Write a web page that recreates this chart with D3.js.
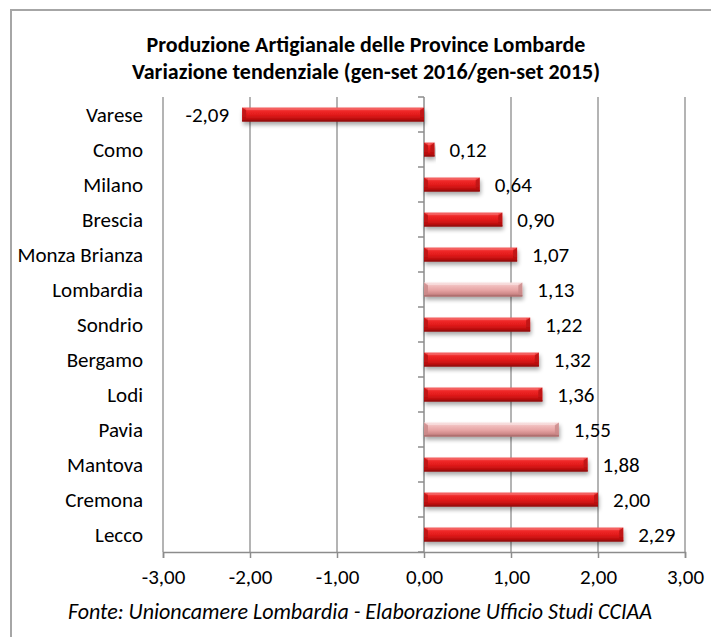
<!DOCTYPE html>
<html>
<head>
<meta charset="utf-8">
<script src="https://cdn.jsdelivr.net/npm/d3@7/dist/d3.min.js"></script>
<style>
  html, body { margin: 0; padding: 0; background: #fff; }
  svg { display: block; }
  text { font-family: "Carlito", "Lato", "Open Sans", sans-serif; fill: #000; }
</style>
</head>
<body>
<svg id="chart" width="711" height="637"></svg>
<script>
const categories = ["Varese","Como","Milano","Brescia","Monza Brianza","Lombardia","Sondrio","Bergamo","Lodi","Pavia","Mantova","Cremona","Lecco"];
const values = [-2.09, 0.12, 0.64, 0.90, 1.07, 1.13, 1.22, 1.32, 1.36, 1.55, 1.88, 2.00, 2.29];
const highlighted = ["Lombardia","Pavia"];
const xTicks = [-3, -2, -1, 0, 1, 2, 3];
const titleLines = ["Produzione Artigianale delle Province Lombarde", "Variazione tendenziale (gen-set 2016/gen-set 2015)"];
const footer = "Fonte: Unioncamere Lombardia - Elaborazione Ufficio Studi CCIAA";

const svg = d3.select("#chart");
const W = 711, H = 637;
const plot = {left: 163, right: 685, top: 97, bottom: 552};
const FS = 21;

const fmt = v => d3.format(".2f")(v).replace(".", ",").replace("\u2212", "-");

// outer border
svg.append("path")
  .attr("d", `M11,${H} L11,10 L${W},10`)
  .attr("fill", "none").attr("stroke", "#a6a6a6").attr("stroke-width", 2);

// defs
const defs = svg.append("defs");
function grad(id, stops) {
  const g = defs.append("linearGradient").attr("id", id).attr("x1", 0).attr("y1", 0).attr("x2", 0).attr("y2", 1);
  stops.forEach(s => g.append("stop").attr("offset", s[0]).attr("stop-color", s[1]));
}
grad("gRed", [[0, "#f35a5a"], [0.25, "#f02a2a"], [0.55, "#e01818"], [0.8, "#c01010"], [1, "#8e0c0c"]]);
grad("gPink", [[0, "#f8dcdc"], [0.25, "#f0bcbc"], [0.55, "#e6a4a4"], [0.8, "#d08a8a"], [1, "#a86868"]]);
const f = defs.append("filter").attr("id", "shadow").attr("x", "-10%").attr("y", "-50%").attr("width", "120%").attr("height", "220%");
f.append("feGaussianBlur").attr("in", "SourceAlpha").attr("stdDeviation", 2).attr("result", "b");
f.append("feOffset").attr("in", "b").attr("dx", 1).attr("dy", 3).attr("result", "o");
f.append("feComponentTransfer").attr("in", "o").attr("result", "o2")
  .append("feFuncA").attr("type", "linear").attr("slope", 0.35);
const m = f.append("feMerge");
m.append("feMergeNode").attr("in", "o2");
m.append("feMergeNode").attr("in", "SourceGraphic");

const x = d3.scaleLinear().domain([-3, 3]).range([plot.left, plot.right]);
const y = d3.scaleBand().domain(categories).range([plot.top, plot.bottom]);

// gridlines
svg.append("g").selectAll("line").data(xTicks.filter(t => t !== 0)).join("line")
  .attr("x1", d => x(d)).attr("x2", d => x(d))
  .attr("y1", plot.top).attr("y2", plot.bottom)
  .attr("stroke", "#8c8c8c").attr("stroke-width", 1.3);

// x axis
const xAxis = svg.append("g").attr("transform", `translate(0,${plot.bottom})`)
  .call(d3.axisBottom(x).tickValues(xTicks).tickFormat(fmt).tickSize(6).tickPadding(11));
xAxis.select(".domain").attr("stroke", "#8c8c8c").attr("stroke-width", 1.5);
xAxis.selectAll(".tick line").attr("stroke", "#8c8c8c").attr("stroke-width", 1.5);
xAxis.selectAll("text").attr("font-size", FS).style("font-family", "Carlito, Lato, 'Open Sans', sans-serif").attr("fill", "#000");

// category axis at zero
const yAxisG = svg.append("g").attr("transform", `translate(${x(0)},0)`);
yAxisG.append("line").attr("x1", 0).attr("x2", 0).attr("y1", plot.top).attr("y2", plot.bottom)
  .attr("stroke", "#8c8c8c").attr("stroke-width", 1.5);
const bounds = d3.range(categories.length + 1).map(i => plot.top + i * y.step());
yAxisG.selectAll("line.t").data(bounds).join("line").attr("class", "t")
  .attr("x1", -6).attr("x2", 0).attr("y1", d => d).attr("y2", d => d)
  .attr("stroke", "#8c8c8c").attr("stroke-width", 1.5);

// category labels
svg.append("g").selectAll("text").data(categories).join("text")
  .attr("x", plot.left - 20).attr("y", d => y(d) + y.bandwidth() / 2)
  .attr("dy", "0.35em").attr("text-anchor", "end").attr("font-size", FS).text(d => d);

// bars
const bh = 14;
const data = categories.map((c, i) => ({c, v: values[i], hl: highlighted.includes(c)}));
const bars = svg.append("g").selectAll("g").data(data).join("g").attr("filter", "url(#shadow)");
bars.append("rect")
  .attr("x", d => Math.min(x(0), x(d.v)))
  .attr("y", d => y(d.c) + y.bandwidth() / 2 - bh / 2)
  .attr("width", d => Math.abs(x(d.v) - x(0)))
  .attr("height", bh)
  .attr("fill", d => d.hl ? "url(#gPink)" : "url(#gRed)");
// bevel ends
bars.each(function(d) {
  const g = d3.select(this);
  const x0 = Math.min(x(0), x(d.v)), x1 = Math.max(x(0), x(d.v));
  const yt = y(d.c) + y.bandwidth() / 2 - bh / 2, yb = yt + bh;
  const bw = Math.min(4, (x1 - x0) / 2);
  const light = d.hl ? "#f9e4e4" : "#f67070";
  const dark = d.hl ? "#b07070" : "#9a0e0e";
  const mid = d.hl ? "#c98888" : "#b81212";
  g.append("polygon").attr("points", `${x0},${yt} ${x0 + bw},${yt + 3} ${x0 + bw},${yb - 3} ${x0},${yb}`).attr("fill", mid).attr("opacity", 0.8);
  g.append("polygon").attr("points", `${x1},${yt} ${x1 - bw},${yt + 3} ${x1 - bw},${yb - 3} ${x1},${yb}`).attr("fill", mid).attr("opacity", 0.8);
  g.append("line").attr("x1", x0 + bw).attr("x2", x1 - bw).attr("y1", yt + 1.5).attr("y2", yt + 1.5).attr("stroke", light).attr("stroke-width", 1.5).attr("opacity", 0.8);
  g.append("line").attr("x1", x0).attr("x2", x1).attr("y1", yb - 0.75).attr("y2", yb - 0.75).attr("stroke", dark).attr("stroke-width", 1.5);
});

// value labels
svg.append("g").selectAll("text").data(data).join("text")
  .attr("x", d => d.v >= 0 ? x(d.v) + 15 : x(d.v) - 13)
  .attr("y", d => y(d.c) + y.bandwidth() / 2)
  .attr("dy", "0.35em")
  .attr("text-anchor", d => d.v >= 0 ? "start" : "end")
  .attr("font-size", FS).text(d => fmt(d.v));

// title
svg.append("text").attr("x", 366).attr("y", 52).attr("text-anchor", "middle")
  .attr("font-size", 22).attr("font-weight", "bold")
  .selectAll("tspan").data(titleLines).join("tspan")
  .attr("x", 366).attr("dy", (d, i) => i === 0 ? 0 : 27).text(d => d);

// footer
svg.append("text").attr("x", 360).attr("y", 619).attr("text-anchor", "middle")
  .attr("font-size", 22).attr("font-style", "italic").text(footer);
</script>
</body>
</html>
